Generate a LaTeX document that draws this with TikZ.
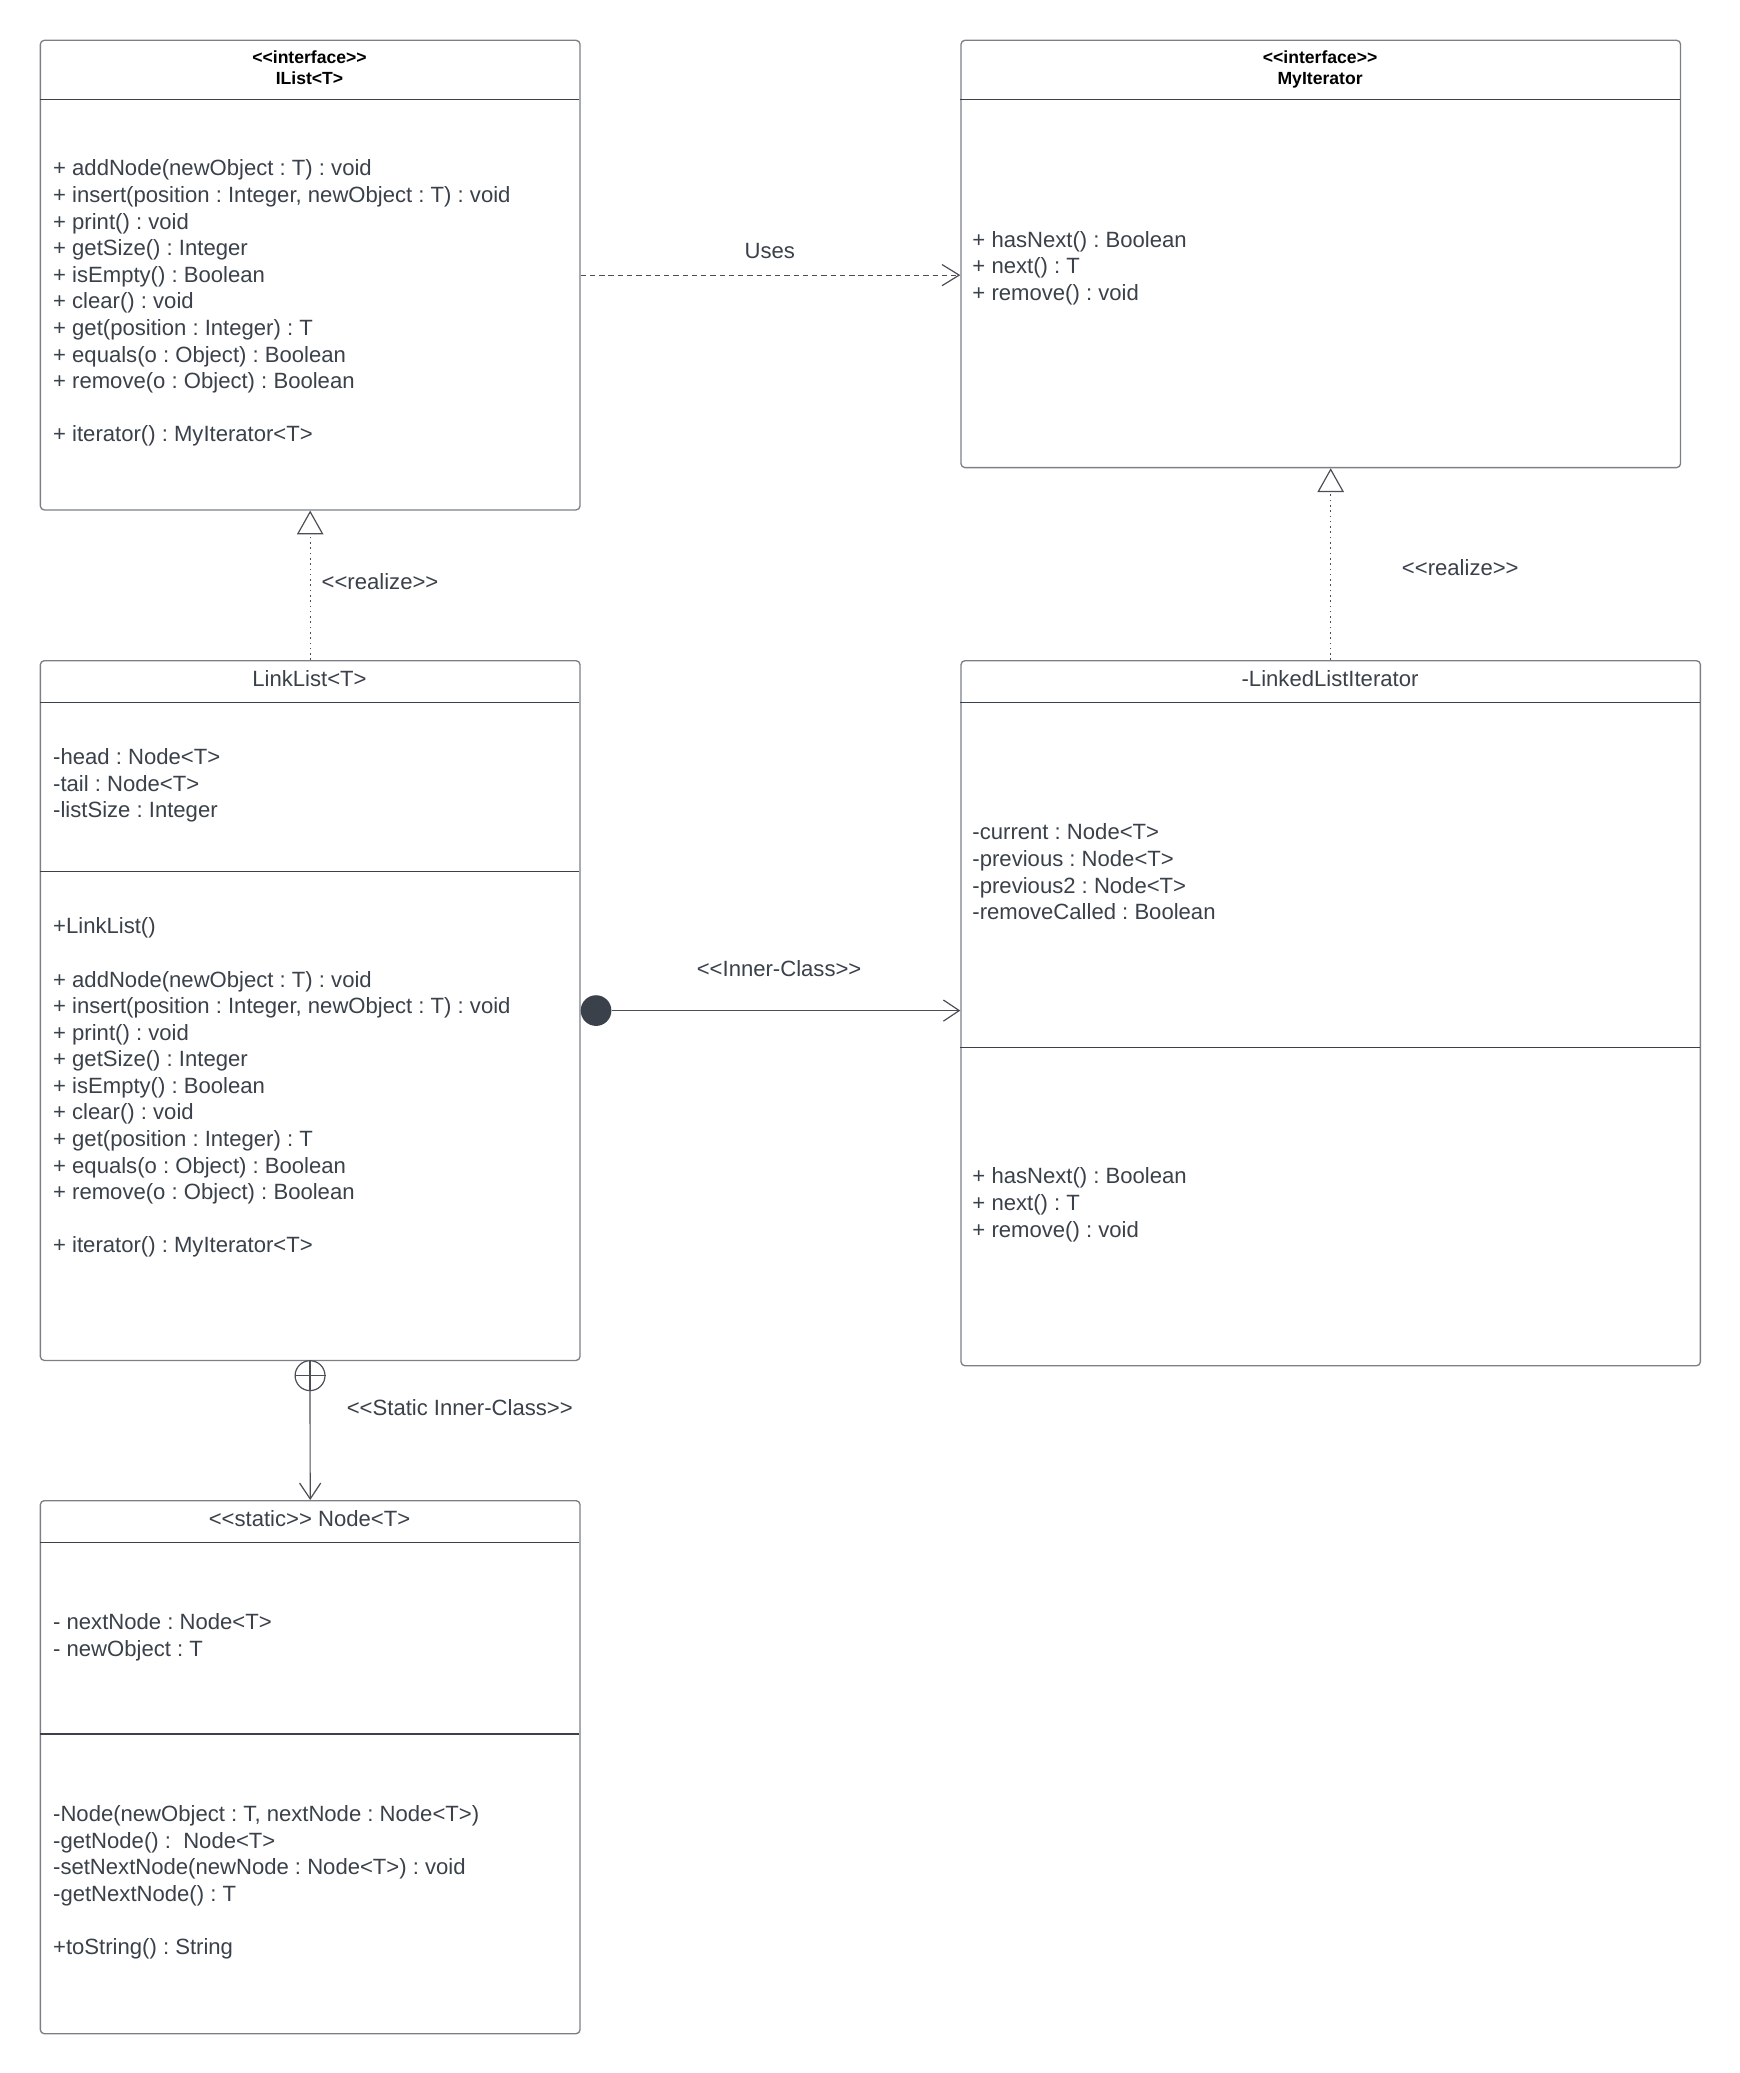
\documentclass[tikz,border=0pt]{standalone}
\usepackage{fontspec}
\newfontfamily\lsans{Liberation Sans}
\usetikzlibrary{arrows.meta}
\definecolor{txtc}{HTML}{3A414A}
\definecolor{brd}{HTML}{7C8086}
\definecolor{lnc}{HTML}{4A4F56}
\frenchspacing
\newcommand\txtlines[4]{%
  \foreach \t [count=\i from 0] in {#4} {\node[txt, name=#1\i] at (#2, {#3+\i*20.1+6}) {\t};}}
\begin{document}
\begin{tikzpicture}[x=1pt,y=-1pt,
  cls/.style={draw=brd, line width=1pt, rounded corners=3pt, anchor=north west, inner sep=0pt},
  sep/.style={draw=txtc, line width=1pt},
  txt/.style={anchor=base west, inner sep=0pt, text=txtc, font=\lsans\frenchspacing\fontsize{16.7}{20.1}\selectfont},
  ctitle/.style={anchor=base, inner sep=0pt, text=txtc, font=\lsans\frenchspacing\fontsize{16.7}{20.1}\selectfont},
  ititle/.style={anchor=base, inner sep=0pt, text=black, font=\lsans\bfseries\fontsize{13.3}{16}\selectfont},
  lbl/.style={inner sep=0pt, text=txtc, font=\lsans\frenchspacing\fontsize{16.7}{20.1}\selectfont},
  dep/.style={draw=lnc, line width=0.9pt, dash pattern=on 4pt off 3pt, -{Straight Barb[length=13pt,width=16pt]}},
  real/.style={draw=lnc, line width=0.9pt, dash pattern=on 1.2pt off 2.8pt, -{Triangle[open, length=18pt, width=20pt, fill=white]}},
  assoc/.style={draw=lnc, line width=0.9pt, -{Straight Barb[length=12pt,width=16pt]}},
  dotend/.style={circle, fill=txtc, inner sep=0pt, minimum size=23.2pt},
  pluscirc/.style={circle, draw=lnc, line width=0.9pt, fill=white, inner sep=0pt, minimum size=22.6pt}
]
\useasboundingbox[fill=white] (0,0) rectangle (1315.4,1567.2);

% ---------- IList<T> ----------
\node[cls, minimum width=408pt, minimum height=355pt] (ilist) at (30,30) {};
\draw[sep] (30,75) -- (438,75);
\node[ititle] (ilistst) at (234,47.8) {<<interface>>};
\node[ititle] (ilistnm) at (234,63.8) {IList<T>};
\txtlines{ilm}{40}{127}{{+ addNode(newObject : T) : void},
 {+ insert(position : Integer, newObject : T) : void},
 {+ print() : void},{+ getSize() : Integer},{+ isEmpty() : Boolean},
 {+ clear() : void},{+ get(position : Integer) : T},
 {+ equals(o : Object) : Boolean},{+ remove(o : Object) : Boolean},{},
 {+ iterator() : MyIterator<T>}}

% ---------- MyIterator ----------
\node[cls, minimum width=544pt, minimum height=323pt] (myit) at (726,30) {};
\draw[sep] (726,75) -- (1270,75);
\node[ititle] (myitst) at (998,47.8) {<<interface>>};
\node[ititle] (myitnm) at (998,63.8) {MyIterator};
\txtlines{mim}{735}{181}{{+ hasNext() : Boolean},{+ next() : T},{+ remove() : void}}

% ---------- LinkList<T> ----------
\node[cls, minimum width=408pt, minimum height=529pt] (linklist) at (30,499) {};
\draw[sep] (30,531) -- (438,531);
\draw[sep] (30,659) -- (438,659);
\node[ctitle] (llnm) at (234,519) {LinkList<T>};
\txtlines{lla}{40}{572}{{-head : Node<T>},{-tail : Node<T>},{-listSize : Integer}}
\txtlines{llm}{40}{700}{{+LinkList()},{},
 {+ addNode(newObject : T) : void},
 {+ insert(position : Integer, newObject : T) : void},
 {+ print() : void},{+ getSize() : Integer},{+ isEmpty() : Boolean},
 {+ clear() : void},{+ get(position : Integer) : T},
 {+ equals(o : Object) : Boolean},{+ remove(o : Object) : Boolean},{},
 {+ iterator() : MyIterator<T>}}

% ---------- LinkedListIterator ----------
\node[cls, minimum width=559pt, minimum height=533pt] (lli) at (726,499) {};
\draw[sep] (726,531) -- (1285,531);
\draw[sep] (726,792) -- (1285,792);
\node[ctitle] (llinm) at (1005.5,519) {-LinkedListIterator};
\txtlines{llia}{735}{629}{{-current : Node<T>},{-previous : Node<T>},{-previous2 : Node<T>},{-removeCalled : Boolean}}
\txtlines{llim}{735}{889}{{+ hasNext() : Boolean},{+ next() : T},{+ remove() : void}}

% ---------- Node<T> ----------
\node[cls, minimum width=408pt, minimum height=403pt] (nodecls) at (30,1134) {};
\draw[sep] (30,1166) -- (438,1166);
\draw[sep] (30,1311) -- (438,1311);
\node[ctitle] (ndnm) at (234,1154) {<<static>> Node<T>};
\txtlines{nda}{40}{1226}{{- nextNode : Node<T>},{- newObject : T}}
\txtlines{ndm}{40}{1371}{{-Node(newObject : T, nextNode : Node<T>)},
 {-getNode() :\ \ Node<T>},{-setNextNode(newNode : Node<T>) : void},
 {-getNextNode() : T},{},{+toString() : String}}

% ---------- connectors ----------
\draw[dep] (ilist.east) -- (ilist.east -| myit.west);
\node[lbl] (useslbl) at (582,190) {Uses};

\draw[real] (linklist.north) -- (ilist.south);
\node[lbl, anchor=west] (real1) at (243,440) {<<realize>>};

\draw[real] (lli.north) -- (lli.north |- myit.south);
\node[lbl] (real2) at (1104,429) {<<realize>>};

\node[dotend] (icdot) at (450.6,764) {};
\draw[assoc] (icdot.east) -- (icdot.east -| lli.west);
\node[lbl] (iclbl) at (589,732) {<<Inner-Class>>};

\node[pluscirc] (scirc) at (234.4,1040) {};
\draw[draw=lnc, line width=0.9pt] (scirc.north) -- (scirc.south) (scirc.west) -- (scirc.east);
\draw[assoc] (scirc.south) -- (nodecls.north);
\node[lbl, anchor=west] (sclbl) at (262,1064) {<<Static Inner-Class>>};
\end{tikzpicture}
\end{document}
